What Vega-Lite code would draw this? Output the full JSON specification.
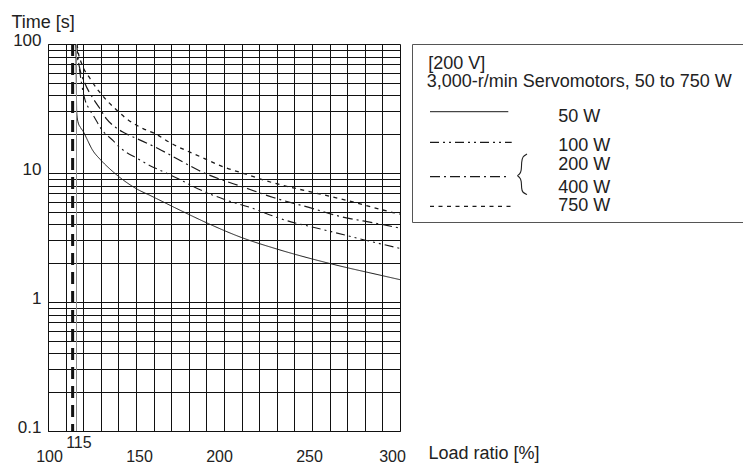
{
  "$schema": "https://vega.github.io/schema/vega-lite/v6.json",
  "padding": {"left": 11, "top": 13, "right": 0, "bottom": 0},
  "bounds": "flush",
  "spacing": 12,
  "config": {
    "view": {"stroke": null},
    "font": "Liberation Sans",
    "axis": {"labelFont": "Liberation Sans", "titleFont": "Liberation Sans"}
  },
  "datasets": {
    "curves": [
      {"series": "50 W", "load": 115.8, "time": 100},
      {"series": "50 W", "load": 116.1, "time": 50},
      {"series": "50 W", "load": 116.3, "time": 30},
      {"series": "50 W", "load": 117, "time": 25},
      {"series": "50 W", "load": 118.5, "time": 22.5},
      {"series": "50 W", "load": 120, "time": 21},
      {"series": "50 W", "load": 122, "time": 18.5},
      {"series": "50 W", "load": 125, "time": 15.3},
      {"series": "50 W", "load": 130, "time": 12.6},
      {"series": "50 W", "load": 135, "time": 10.8},
      {"series": "50 W", "load": 141, "time": 9.2},
      {"series": "50 W", "load": 151, "time": 7.45},
      {"series": "50 W", "load": 158, "time": 6.7},
      {"series": "50 W", "load": 175, "time": 5.15},
      {"series": "50 W", "load": 191, "time": 4.06},
      {"series": "50 W", "load": 210, "time": 3.16},
      {"series": "50 W", "load": 229, "time": 2.6},
      {"series": "50 W", "load": 260, "time": 1.99},
      {"series": "50 W", "load": 290, "time": 1.6},
      {"series": "50 W", "load": 300, "time": 1.49},

      {"series": "100 W", "load": 116.2, "time": 100},
      {"series": "100 W", "load": 117.5, "time": 70},
      {"series": "100 W", "load": 119, "time": 50},
      {"series": "100 W", "load": 121, "time": 37},
      {"series": "100 W", "load": 123, "time": 32},
      {"series": "100 W", "load": 125.7, "time": 28},
      {"series": "100 W", "load": 130, "time": 22.2},
      {"series": "100 W", "load": 137, "time": 17.8},
      {"series": "100 W", "load": 141, "time": 15.7},
      {"series": "100 W", "load": 151, "time": 12.9},
      {"series": "100 W", "load": 158, "time": 11.4},
      {"series": "100 W", "load": 166.5, "time": 10.1},
      {"series": "100 W", "load": 176, "time": 8.75},
      {"series": "100 W", "load": 181, "time": 8.05},
      {"series": "100 W", "load": 202, "time": 6.12},
      {"series": "100 W", "load": 215, "time": 5.4},
      {"series": "100 W", "load": 232, "time": 4.43},
      {"series": "100 W", "load": 258.5, "time": 3.58},
      {"series": "100 W", "load": 281, "time": 3.0},
      {"series": "100 W", "load": 298, "time": 2.64},
      {"series": "100 W", "load": 300, "time": 2.6},

      {"series": "200 W / 400 W", "load": 116, "time": 100},
      {"series": "200 W / 400 W", "load": 116.3, "time": 89},
      {"series": "200 W / 400 W", "load": 118, "time": 65},
      {"series": "200 W / 400 W", "load": 121, "time": 49.4},
      {"series": "200 W / 400 W", "load": 125, "time": 39},
      {"series": "200 W / 400 W", "load": 129.5, "time": 31.6},
      {"series": "200 W / 400 W", "load": 133, "time": 26.5},
      {"series": "200 W / 400 W", "load": 136.9, "time": 23.4},
      {"series": "200 W / 400 W", "load": 143, "time": 20.6},
      {"series": "200 W / 400 W", "load": 150.4, "time": 18.5},
      {"series": "200 W / 400 W", "load": 162.5, "time": 15.5},
      {"series": "200 W / 400 W", "load": 173.3, "time": 12.9},
      {"series": "200 W / 400 W", "load": 185.5, "time": 10.5},
      {"series": "200 W / 400 W", "load": 213, "time": 7.6},
      {"series": "200 W / 400 W", "load": 228, "time": 6.46},
      {"series": "200 W / 400 W", "load": 250.6, "time": 5.3},
      {"series": "200 W / 400 W", "load": 264, "time": 4.68},
      {"series": "200 W / 400 W", "load": 287, "time": 4.06},
      {"series": "200 W / 400 W", "load": 298.3, "time": 3.78},
      {"series": "200 W / 400 W", "load": 300, "time": 3.74},

      {"series": "750 W", "load": 116.5, "time": 100},
      {"series": "750 W", "load": 117, "time": 89},
      {"series": "750 W", "load": 119.1, "time": 70.6},
      {"series": "750 W", "load": 123.9, "time": 54},
      {"series": "750 W", "load": 133.4, "time": 36.5},
      {"series": "750 W", "load": 138.1, "time": 31.6},
      {"series": "750 W", "load": 143.8, "time": 26.9},
      {"series": "750 W", "load": 154, "time": 22.1},
      {"series": "750 W", "load": 160.8, "time": 20.2},
      {"series": "750 W", "load": 169.3, "time": 17.2},
      {"series": "750 W", "load": 186.4, "time": 13.4},
      {"series": "750 W", "load": 199.4, "time": 11.2},
      {"series": "750 W", "load": 213.1, "time": 9.73},
      {"series": "750 W", "load": 227.3, "time": 8.44},
      {"series": "750 W", "load": 241.5, "time": 7.55},
      {"series": "750 W", "load": 250, "time": 7.1},
      {"series": "750 W", "load": 269.9, "time": 6.12},
      {"series": "750 W", "load": 296, "time": 4.94},
      {"series": "750 W", "load": 300, "time": 4.8}
    ],
    "legendText": [
      {"label": "[200 V]", "lx": 16.3, "ly": 25},
      {"label": "3,000-r/min Servomotors, 50 to 750 W", "lx": 14.7, "ly": 43},
      {"label": "50 W", "lx": 146.3, "ly": 77.7},
      {"label": "100 W", "lx": 146.3, "ly": 107.2},
      {"label": "200 W", "lx": 146.3, "ly": 125.7},
      {"label": "400 W", "lx": 146.3, "ly": 148.7},
      {"label": "750 W", "lx": 146.3, "ly": 167.2}
    ],
    "legendLines": [
      {"series": "50 W", "lx": 18, "ly": 67.7},
      {"series": "50 W", "lx": 96.3, "ly": 67.7},
      {"series": "100 W", "lx": 18, "ly": 98.4},
      {"series": "100 W", "lx": 99.7, "ly": 98.4},
      {"series": "200 W / 400 W", "lx": 18, "ly": 132.7},
      {"series": "200 W / 400 W", "lx": 98, "ly": 132.7},
      {"series": "750 W", "lx": 18, "ly": 162.4},
      {"series": "750 W", "lx": 100, "ly": 162.4}
    ],
    "brace": [
      {"i": 0, "lx": 115, "ly": 110},
      {"i": 1, "lx": 110.5, "ly": 112.5},
      {"i": 2, "lx": 109.5, "ly": 118},
      {"i": 3, "lx": 109.5, "ly": 127},
      {"i": 4, "lx": 107.5, "ly": 130.5},
      {"i": 5, "lx": 104.7, "ly": 131.7},
      {"i": 6, "lx": 107.5, "ly": 133},
      {"i": 7, "lx": 109.5, "ly": 136.5},
      {"i": 8, "lx": 109.5, "ly": 145},
      {"i": 9, "lx": 110.5, "ly": 148.5},
      {"i": 10, "lx": 115, "ly": 150.5}
    ]
  },
  "hconcat": [
    {
      "width": 352,
      "height": 387,
      "layer": [
        {
          "data": {"name": "curves"},
          "mark": {"type": "line", "interpolate": "monotone", "color": "#1a1a1a"},
          "encoding": {
            "x": {
              "field": "load",
              "type": "quantitative",
              "scale": {"domain": [100, 300], "nice": false, "zero": false},
              "axis": {
                "values": [100, 110, 115, 120, 130, 140, 150, 160, 170, 180, 190, 200, 210, 220, 230, 240, 250, 260, 270, 280, 290, 300],
                "tickCount": 200,
                "grid": true,
                "gridColor": "#111111",
                "gridWidth": 1,
                "gridOpacity": {"condition": {"test": "datum.value == 115", "value": 0}, "value": 1},
                "ticks": false,
                "domainColor": "#111111",
                "labelExpr": "(datum.value % 50 == 0 || datum.value == 115) ? datum.label : ''",
                "labelFontSize": 16,
                "labelColor": "#222222",
                "labelBaseline": "alphabetic",
                "labelPadding": {"condition": {"test": "datum.value == 115", "value": 16}, "value": 30},
                "labelOffset": {"condition": [
                  {"test": "datum.value == 115", "value": 4},
                  {"test": "datum.value == 150", "value": 3},
                  {"test": "datum.value == 200", "value": -5},
                  {"test": "datum.value == 250", "value": -3},
                  {"test": "datum.value == 300", "value": -8}
                ], "value": 1},
                "labelFlush": false,
                "labelOverlap": false,
                "labelBound": false,
                "format": "d",
                "title": "Load ratio [%]",
                "titleX": 380,
                "titleY": 27,
                "titleAlign": "left",
                "titleBaseline": "alphabetic",
                "titleFontSize": 18,
                "titleFontWeight": "normal",
                "titleColor": "#222222"
              }
            },
            "y": {
              "field": "time",
              "type": "quantitative",
              "scale": {"type": "log", "domain": [0.1, 100], "nice": false},
              "axis": {
                "values": [0.1, 0.2, 0.3, 0.4, 0.5, 0.6, 0.7, 0.8, 0.9, 1, 2, 3, 4, 5, 6, 7, 8, 9, 10, 20, 30, 40, 50, 60, 70, 80, 90, 100],
                "tickCount": 200,
                "grid": true,
                "gridColor": "#111111",
                "gridWidth": 1,
                "ticks": false,
                "domainColor": "#111111",
                "labelExpr": "datum.value == 0.1 ? '0.1' : datum.value == 1 ? '1' : datum.value == 10 ? '10' : datum.value == 100 ? '100' : ''",
                "labelFontSize": 17,
                "labelColor": "#222222",
                "labelPadding": 7,
                "labelBaseline": "alphabetic",
                "labelOffset": 1,
                "labelOverlap": false,
                "labelFlush": false,
                "labelBound": false,
                "title": "Time [s]",
                "titleAngle": 0,
                "titleAlign": "left",
                "titleBaseline": "alphabetic",
                "titleX": -37,
                "titleY": -17,
                "titleFontSize": 18,
                "titleFontWeight": "normal",
                "titleColor": "#222222"
              }
            },
            "strokeDash": {
              "field": "series",
              "type": "nominal",
              "scale": {
                "domain": ["50 W", "100 W", "200 W / 400 W", "750 W"],
                "range": [[1, 0], [9, 4, 2, 4, 2, 4], [10, 4, 2, 4], [4, 4.5]]
              },
              "legend": null
            },
            "strokeWidth": {
              "field": "series",
              "type": "nominal",
              "scale": {
                "domain": ["50 W", "100 W", "200 W / 400 W", "750 W"],
                "range": [1, 1.3, 1.7, 1.7]
              },
              "legend": null
            }
          }
        },
        {
          "data": {"values": [{"load": 114}]},
          "mark": {"type": "rule", "strokeDash": [12, 7], "strokeWidth": 3, "color": "#111111"},
          "encoding": {"x": {"field": "load", "type": "quantitative"}}
        },
        {
          "data": {"values": [{"load": 116.2}]},
          "mark": {"type": "rule", "strokeWidth": 1, "color": "#8a8a8a"},
          "encoding": {"x": {"field": "load", "type": "quantitative"}}
        }
      ]
    },
    {
      "width": 331,
      "height": 178,
      "view": {"stroke": "#555555", "strokeWidth": 1},
      "layer": [
        {
          "data": {"name": "legendText"},
          "mark": {"type": "text", "align": "left", "baseline": "alphabetic", "fontSize": 18, "color": "#222222", "font": "Liberation Sans"},
          "encoding": {
            "x": {"field": "lx", "type": "quantitative", "scale": {"domain": [0, 331], "nice": false}, "axis": null},
            "y": {"field": "ly", "type": "quantitative", "scale": {"domain": [0, 178], "nice": false, "reverse": true}, "axis": null},
            "text": {"field": "label"}
          }
        },
        {
          "data": {"name": "legendLines"},
          "mark": {"type": "line", "color": "#1a1a1a"},
          "encoding": {
            "x": {"field": "lx", "type": "quantitative", "scale": {"domain": [0, 331], "nice": false}, "axis": null},
            "y": {"field": "ly", "type": "quantitative", "scale": {"domain": [0, 178], "nice": false, "reverse": true}, "axis": null},
            "strokeDash": {
              "field": "series",
              "type": "nominal",
              "scale": {
                "domain": ["50 W", "100 W", "200 W / 400 W", "750 W"],
                "range": [[1, 0], [9, 4, 2, 4, 2, 4], [10, 4, 2, 4], [4, 4.5]]
              },
              "legend": null
            },
            "strokeWidth": {
              "field": "series",
              "type": "nominal",
              "scale": {
                "domain": ["50 W", "100 W", "200 W / 400 W", "750 W"],
                "range": [1, 1.3, 1.7, 1.7]
              },
              "legend": null
            }
          }
        },
        {
          "data": {"name": "brace"},
          "mark": {"type": "line", "interpolate": "basis", "strokeWidth": 1.1, "color": "#222222"},
          "encoding": {
            "x": {"field": "lx", "type": "quantitative", "scale": {"domain": [0, 331], "nice": false}, "axis": null},
            "y": {"field": "ly", "type": "quantitative", "scale": {"domain": [0, 178], "nice": false, "reverse": true}, "axis": null},
            "order": {"field": "i", "type": "quantitative"}
          }
        }
      ]
    }
  ]
}
